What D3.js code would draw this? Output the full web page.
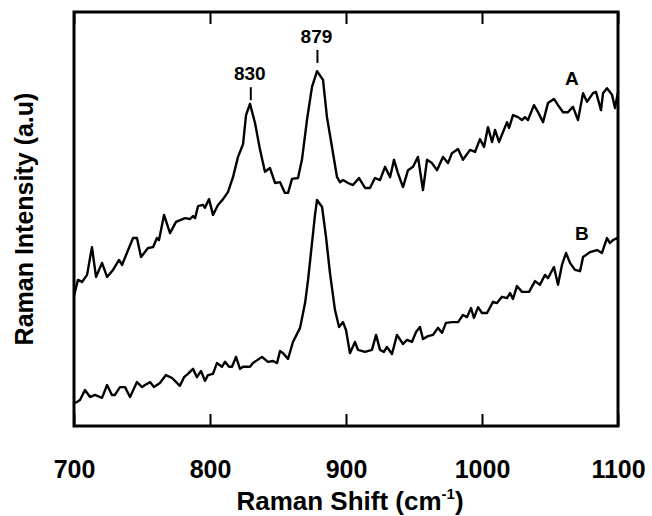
<!DOCTYPE html>
<html>
<meta charset="utf-8">
<title>Raman spectra</title>
<style>
body { margin: 0; background: #fff; }
text { font-family: "Liberation Sans", Arial, sans-serif; font-weight: bold; fill: #000; }
.curve { fill: none; stroke: #000; stroke-width: 2.4; stroke-linejoin: round; }
</style>
<script src="https://cdnjs.cloudflare.com/ajax/libs/d3/7.8.5/d3.min.js"></script>
<body>
<div id="chart"></div>
<script>
// spectrum A (Raman shift cm-1, intensity a.u.)
var shiftA = [700,700.7,702.9,705.9,709.6,713.2,716.2,720.6,724.3,728.7,733.1,735.3,743.4,746.3,749.3,754.4,758.1,761.0,762.5,766.2,770.6,775.0,781.6,785.3,787.5,789.0,791.2,794.9,796.3,799.3,802.2,805.9,809.6,813.2,816.9,820.6,824.3,826.5,829.4,833.1,836.8,840.4,844.1,847.8,851.5,855.1,857.4,860.3,864.7,867.6,871.3,875.0,878.7,883.1,886.0,889.7,893.4,895.6,897.8,901.5,905.1,909.6,914.0,917.6,921.3,925.0,928.7,932.4,935.3,938.2,941.9,945.6,949.3,952.9,956.6,959.6,963.2,966.9,971.3,975.0,977.9,982.4,986.0,991.2,994.9,998.5,1001.5,1004.4,1007.4,1009.6,1012.5,1018.4,1019.9,1022.8,1026.5,1029.4,1031.6,1033.8,1038.2,1041.2,1044.9,1048.5,1052.9,1055.9,1059.6,1063.2,1066.9,1070.6,1074.3,1077.2,1081.6,1083.8,1087.5,1089.0,1091.9,1095.6,1097.8,1099.3,1100];
var intA = [31.5,32.4,35.3,34.8,36.5,43.2,36.0,39.4,36.0,37.7,40.1,38.9,45.4,45.4,40.8,43.0,43.2,45.4,44.9,51.0,46.6,49.3,50.2,50.0,50.7,50.2,53.1,53.4,52.7,54.8,51.0,53.4,54.8,56.5,60.1,65.0,68.1,75.1,77.8,73.2,66.7,61.4,62.3,58.7,58.9,56.3,56.3,59.7,59.9,64.3,73.9,81.9,85.7,83.6,74.6,67.4,60.1,58.9,59.4,58.7,58.2,59.9,57.5,57.5,59.9,59.4,62.6,60.1,64.3,61.1,57.7,61.8,62.6,65.0,57.0,64.3,63.5,61.8,65.0,63.5,65.9,66.9,64.3,66.7,66.2,69.3,67.4,72.2,68.6,71.5,68.6,73.4,72.0,75.1,74.6,73.9,74.6,73.9,77.5,75.8,73.4,78.0,79.0,77.5,75.8,75.8,77.1,73.9,80.4,78.3,80.4,80.7,76.3,80.4,81.6,80.0,76.8,79.5,80.5];

// spectrum B
var shiftB = [700,702.2,704.4,708.1,711.8,715.4,720.6,724.3,727.9,730.1,733.8,737.5,741.2,746.3,750.0,752.2,755.9,758.8,763.2,767.6,772.1,777.9,780.9,783.8,787.5,790.4,793.4,796.3,798.5,802.2,805.1,808.8,811.0,814.0,816.2,819.1,822.1,824.3,829.4,831.6,838.2,842.6,846.3,849.3,851.5,853.7,857.4,861.0,866.2,869.9,872.1,875.0,877.2,878.7,882.4,885.3,888.2,891.9,894.9,897.8,900.0,902.9,906.6,908.8,914.0,919.1,922.1,925.0,927.9,930.1,933.8,937.5,941.9,944.9,948.5,951.5,954.4,956.6,960.3,964.0,967.6,970.6,973.5,977.9,982.4,986.0,989.0,991.9,994.1,997.1,1000.0,1003.7,1008.1,1011.0,1014.7,1018.4,1020.6,1022.8,1025.7,1029.4,1034.6,1039.0,1042.6,1046.3,1048.5,1052.9,1055.9,1058.8,1061.8,1064.7,1068.4,1072.1,1074.3,1079.4,1084.6,1088.2,1091.9,1094.1,1096.3,1099.3,1100];
var intB = [5.5,5.8,6.3,8.7,7.0,7.5,6.8,9.9,7.5,7.5,9.4,9.4,7.0,10.6,9.4,9.9,10.6,9.4,10.4,12.3,11.6,9.7,11.8,12.6,13.8,11.8,13.3,10.9,12.3,12.6,15.2,14.3,15.5,14.3,14.3,16.7,13.8,14.3,14.3,15.2,16.7,15.5,15.7,15.2,18.1,17.6,16.2,20.3,23.7,29.7,35.3,44.2,51.0,54.6,52.9,45.7,37.0,28.0,23.9,25.1,23.2,17.6,20.3,18.4,17.9,18.4,22.0,18.4,17.9,19.1,17.4,22.0,19.8,20.8,20.3,22.7,23.9,21.0,21.7,22.0,23.7,22.5,24.9,25.1,25.1,26.8,26.3,28.5,26.1,28.7,27.3,27.3,30.0,29.7,31.2,30.9,32.1,30.7,33.8,32.4,32.4,35.0,34.1,36.5,35.7,38.4,34.1,38.9,41.8,39.4,37.7,37.4,40.8,42.0,42.5,41.8,45.4,44.2,44.9,45.4,45.0];

var xTicks = [700, 800, 900, 1000, 1100];
var peaks = [830, 879];
var peakMarkLevel = [78.7, 87.7];   // bottom of the little marker above each peak
var seriesLabels = ["A", "B"];
var labelShift = [1066, 1073.5];
var labelLevel = [82.4, 44.9];

var W = 652, H = 516;
var margin = {top: 12, right: 34, bottom: 90, left: 74};
var width = W - margin.left - margin.right,
    height = H - margin.top - margin.bottom;

var svg = d3.select("#chart").append("svg")
    .attr("width", W)
    .attr("height", H)
  .append("g")
    .attr("transform", "translate(" + margin.left + "," + margin.top + ")");

var x = d3.scaleLinear().domain([700, 1100]).range([0, width]);
var y = d3.scaleLinear().domain([0, 100]).range([height, 0]);

// inward ticks, bottom and top
svg.append("g")
    .attr("transform", "translate(0," + height + ")")
    .call(d3.axisBottom(x).tickValues(xTicks).tickSizeInner(-12).tickSizeOuter(0).tickPadding(34).tickFormat(d3.format("d")))
    .call(function(g) {
      g.select(".domain").remove();
      g.selectAll("line").attr("stroke-width", 2);
      g.selectAll("text").style("font-size", "25px").style("font-family", "Liberation Sans, Arial, sans-serif").style("font-weight", "bold");
    });
svg.append("g")
    .call(d3.axisTop(x).tickValues(xTicks).tickSizeInner(-12).tickSizeOuter(0).tickFormat(""))
    .call(function(g) {
      g.select(".domain").remove();
      g.selectAll("line").attr("stroke-width", 2);
    });

// frame
svg.append("rect")
    .attr("width", width).attr("height", height)
    .attr("fill", "none").attr("stroke", "#000").attr("stroke-width", 3);

var line = d3.line()
    .x(function(d) { return x(d[0]); })
    .y(function(d) { return y(d[1]); });

svg.append("path").attr("class", "curve").attr("d", line(d3.zip(shiftA, intA)));
svg.append("path").attr("class", "curve").attr("d", line(d3.zip(shiftB, intB)));

// peak markers
peaks.forEach(function(p, i) {
  var base = y(peakMarkLevel[i]);
  svg.append("line")
      .attr("x1", x(p)).attr("x2", x(p))
      .attr("y1", base).attr("y2", base - 13)
      .attr("stroke", "#000").attr("stroke-width", 2);
  svg.append("text")
      .attr("x", x(p) - 1).attr("y", base - 20)
      .attr("text-anchor", "middle")
      .style("font-size", "19px")
      .text(p);
});

seriesLabels.forEach(function(s, i) {
  svg.append("text")
      .attr("x", x(labelShift[i])).attr("y", y(labelLevel[i]))
      .attr("text-anchor", "middle")
      .style("font-size", "19px")
      .text(s);
});

// axis titles
var xt = svg.append("text")
    .attr("x", width / 2 + 4).attr("y", height + 84)
    .attr("text-anchor", "middle")
    .style("font-size", "26px");
xt.append("tspan").text("Raman Shift (cm");
xt.append("tspan").attr("dy", -11).style("font-size", "15px").text("-1");
xt.append("tspan").attr("dy", 11).text(")");

svg.append("text")
    .attr("transform", "translate(" + (-41) + "," + (height / 2) + ") rotate(-90)")
    .attr("text-anchor", "middle")
    .style("font-size", "25px")
    .text("Raman Intensity (a.u)");
</script>
</body>
</html>
